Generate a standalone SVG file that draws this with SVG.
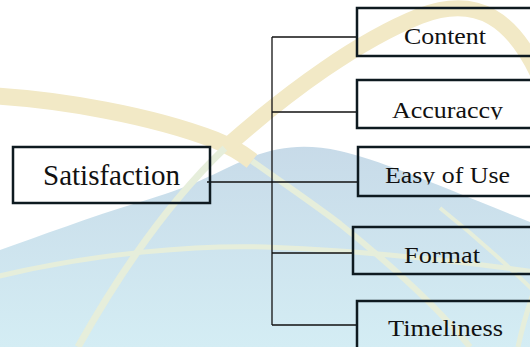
<svg xmlns="http://www.w3.org/2000/svg" width="530" height="347" viewBox="0 0 530 347">
  <style>
    .box { fill: none; stroke: #0e1a20; stroke-width: 2.5; }
    .wire { fill: none; stroke: #111; stroke-width: 1.3; }
    text { font-family: 'Liberation Serif', 'Times New Roman', Times, serif; fill: #111; }
    .lbl { font-size: 23px; }
    .main { font-size: 29px; }
    .gold { fill: none; stroke: #f2e9c6; stroke-linecap: butt; }
    .pale { fill: none; stroke: #e6eedb; stroke-linecap: butt; }
  </style>
  <defs>
    <linearGradient id="sea" x1="0" y1="140" x2="0" y2="347" gradientUnits="userSpaceOnUse">
      <stop offset="0" stop-color="#c7dae8"/>
      <stop offset="1" stop-color="#d4edf4"/>
    </linearGradient>
    <clipPath id="clipAcc"><rect x="357" y="80" width="180" height="39.5"/></clipPath>
    <clipPath id="clipEasy"><rect x="358" y="147" width="180" height="37.5"/></clipPath>
  </defs>

  <!-- background globe -->
  <g id="globe">
    <rect width="530" height="347" fill="#ffffff"/>
    <path d="M0,250 C40,236 90,217 140,202 S210,176 240,162 S300,142 340,151 S430,182 530,222 L530,347 L0,347 Z" fill="url(#sea)"/>
    <!-- upper band -->
    <path class="gold" stroke-width="17" d="M-5,96 C60,100 150,115 215,140 C230,146 242,153 252,161"/>
    <path class="pale" stroke-width="6" d="M252,161 C290,188 315,205 340,224 C395,268 440,310 470,347"/>
    <!-- great arc -->
    <path class="pale" stroke-width="7" d="M78,347 C110,290 160,210 225,148"/>
    <path class="gold" stroke-width="16" d="M225,148 C290,90 360,40 420,16 C475,-5 515,15 545,90"/>
    <!-- equator -->
    <path class="pale" stroke-width="5" d="M-5,277 C100,252 200,245 265,247 C350,250 450,260 535,272"/>
    <path class="pale" stroke-width="4" d="M440,208 C470,232 500,258 535,292"/>
    <path class="pale" stroke-width="5" d="M535,288 C528,308 522,328 518,347"/>
  </g>

  <!-- connectors -->
  <g id="connectors">
    <line class="wire" x1="272" y1="37" x2="272" y2="325"/>
    <line class="wire" x1="272" y1="37" x2="356" y2="37"/>
    <line class="wire" x1="272" y1="112" x2="357" y2="112"/>
    <line class="wire" x1="207" y1="182" x2="357" y2="182"/>
    <line class="wire" x1="272" y1="253" x2="353" y2="253"/>
    <line class="wire" x1="272" y1="325" x2="356" y2="325"/>
  </g>

  <g id="satisfaction">
    <rect class="box" x="13" y="147" width="197" height="56"/>
    <text class="main" x="43" y="185" textLength="137" lengthAdjust="spacingAndGlyphs">Satisfaction</text>
  </g>

  <g id="content">
    <rect class="box" x="357" y="8" width="180" height="48"/>
    <text class="lbl" x="404" y="44" textLength="82" lengthAdjust="spacingAndGlyphs">Content</text>
  </g>

  <g id="accuracy">
    <rect class="box" x="357" y="80" width="180" height="48"/>
    <text class="lbl" x="392" y="118" textLength="111" lengthAdjust="spacingAndGlyphs" clip-path="url(#clipAcc)">Accuraccy</text>
  </g>

  <g id="ease-of-use">
    <rect class="box" x="358" y="147" width="180" height="49"/>
    <text class="lbl" x="385" y="183" textLength="125" lengthAdjust="spacingAndGlyphs" clip-path="url(#clipEasy)">Easy of Use</text>
  </g>

  <g id="format">
    <rect class="box" x="353" y="227" width="184" height="47"/>
    <text class="lbl" x="404" y="263" textLength="76" lengthAdjust="spacingAndGlyphs">Format</text>
  </g>

  <g id="timeliness">
    <rect class="box" x="357" y="301" width="180" height="60"/>
    <text class="lbl" x="388" y="336" textLength="115" lengthAdjust="spacingAndGlyphs">Timeliness</text>
  </g>
</svg>
